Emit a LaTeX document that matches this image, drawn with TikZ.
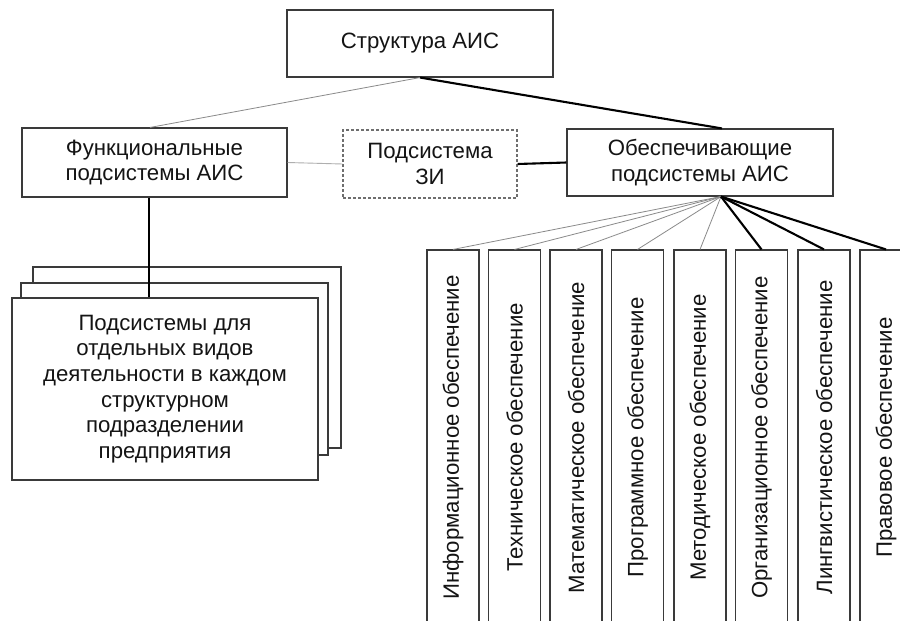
\documentclass[tikz,border=0pt]{standalone}
\usepackage{fontspec}
\setmainfont{Liberation Sans}
\definecolor{boxc}{HTML}{3A3A3A}
\definecolor{litec}{HTML}{8A8A8A}
\definecolor{palec}{HTML}{AFAFAF}
\definecolor{dashc}{HTML}{6E6E6E}
\definecolor{txt}{HTML}{141414}
\begin{document}
\begin{tikzpicture}[x=1pt,y=-1pt,
  box/.style={draw=boxc, line width=1.1pt, fill=white, text=txt, align=center, inner sep=0pt,
              font=\fontsize{22.2}{25.6}\selectfont},
  vbox/.style={box, minimum width=52pt, minimum height=375pt},
  lite/.style={draw=litec, line width=0.8pt},
  pale/.style={draw=palec, line width=0.9pt},
  heavy/.style={draw=black, line width=2.1pt}]
\clip (0,0) rectangle (900,621);
\fill[white] (0,0) rectangle (900,621);

% upper level
\node[box, minimum width=266pt, minimum height=67pt] (top) at (420,43.5) {Структура АИС};
\node[box, minimum width=265pt, minimum height=69pt] (func) at (154.5,162.5) {Функциональные\\подсистемы АИС};
\node[box, draw=dashc, dash pattern=on 3pt off 2pt, minimum width=174pt, minimum height=68pt] (zi) at (430,164) {Подсистема\\ЗИ};
\node[box, minimum width=266pt, minimum height=67pt] (ob) at (700,162.5) {Обеспечивающие\\подсистемы АИС};

% stacked boxes
\node[box, minimum width=308pt, minimum height=181pt] (s3) at (187,357.5) {};
\node[box, minimum width=307pt, minimum height=172pt] (s2) at (174.5,369) {};
\node[box, minimum width=306pt, minimum height=182pt] (s1) at (165,389)
  {Подсистемы для\\отдельных видов\\деятельности в каждом\\структурном\\подразделении\\предприятия};

% vertical boxes
\node[vbox] (b1) at (453,437.5) {\rotatebox{90}{Информационное обеспечение}};
\node[vbox] (b2) at (514.5,437.5) {\rotatebox{90}{Техническое обеспечение}};
\node[vbox] (b3) at (576,437.5) {\rotatebox{90}{Математическое обеспечение}};
\node[vbox] (b4) at (637.5,437.5) {\rotatebox{90}{Программное обеспечение}};
\node[vbox] (b5) at (700,437.5) {\rotatebox{90}{Методическое обеспечение}};
\node[vbox] (b6) at (761.5,437.5) {\rotatebox{90}{Организационное обеспечение}};
\node[vbox] (b7) at (824,437.5) {\rotatebox{90}{Лингвистическое обеспечение}};
\node[vbox] (b8) at (886,437.5) {\rotatebox{90}{Правовое обеспечение}};

% connectors
\draw[lite] (top.south) -- ([xshift=-4.5pt]func.north);
\draw[heavy] (top.south) -- ([xshift=22pt]ob.north);
\draw[pale] (func.east) -- (zi.west);
\draw[heavy] (zi.east) -- (ob.west);
\draw[heavy] ([xshift=-5.5pt]func.south) -- ([xshift=-16pt]s1.north);

\coordinate (fan) at ([xshift=21pt]ob.south);
\foreach \i in {1,...,5} {\draw[lite] (fan) -- (b\i.north);}
\foreach \i in {6,7,8} {\draw[heavy] (fan) -- (b\i.north);}
\end{tikzpicture}
\end{document}
